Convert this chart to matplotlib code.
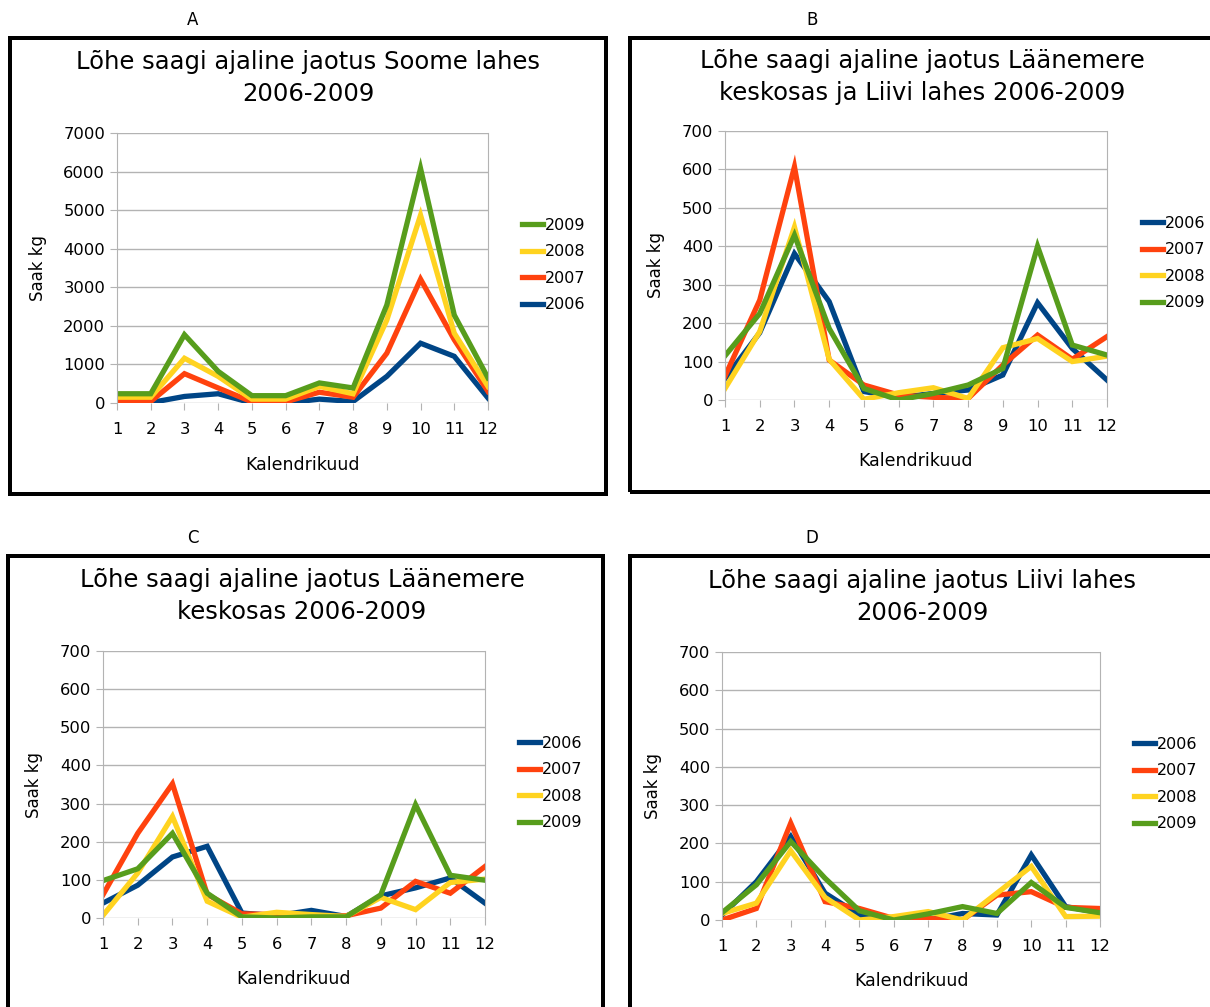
import numpy as np
import matplotlib.pyplot as plt
from matplotlib.patches import Rectangle

months = list(range(1, 13))
years = ["2006", "2007", "2008", "2009"]
colors = {"2006": "#004586", "2007": "#ff420e", "2008": "#ffd320", "2009": "#579d1c"}

# A: Soome laht
a_2006 = [20, 10, 170, 240, 0, 0, 100, 40, 690, 1550, 1210, 130]
a_2007 = [60, 40, 760, 390, 30, 30, 280, 150, 1290, 3210, 1640, 300]
a_2008 = [150, 150, 1160, 690, 100, 100, 430, 240, 2150, 4870, 1810, 430]
a_2009 = [240, 240, 1770, 820, 190, 190, 520, 390, 2540, 6080, 2280, 650]

# B: Läänemere keskosa ja Liivi laht
b_2006 = [56, 175, 381, 256, 22, 7, 17, 26, 65, 253, 134, 52]
b_2007 = [62, 260, 607, 104, 39, 13, 7, 4, 91, 169, 106, 165]
b_2008 = [30, 178, 450, 106, 2, 19, 32, 4, 136, 160, 100, 114]
b_2009 = [115, 225, 429, 186, 30, 0, 17, 39, 82, 400, 143, 117]

# C: Läänemere keskosa
c_2006 = [39, 86, 160, 188, 13, 6, 20, 4, 58, 79, 105, 39]
c_2007 = [61, 222, 352, 62, 11, 9, 0, 6, 26, 96, 65, 135]
c_2008 = [7, 118, 266, 44, 2, 15, 9, 4, 54, 22, 93, 102]
c_2009 = [98, 129, 222, 65, 3, 0, 3, 3, 61, 297, 112, 99]

# D: Liivi laht
d_2006 = [13, 100, 218, 70, 13, 0, 0, 17, 13, 170, 35, 19]
d_2007 = [0, 30, 253, 48, 30, 4, 4, 0, 65, 74, 33, 30]
d_2008 = [17, 44, 181, 59, 0, 9, 22, 0, 70, 140, 9, 10]
d_2009 = [19, 92, 205, 109, 24, 0, 16, 35, 17, 98, 33, 19]

W, H = 1210, 1007
fig = plt.figure(figsize=(W / 100, H / 100), dpi=100)


def fx(px):
    return px / W


def fy(py):
    return 1 - py / H


def frame(x0, y0, x1, y1, lw=4):
    fig.add_artist(Rectangle((fx(x0), fy(y1)), fx(x1 - x0), (y1 - y0) / H,
                             transform=fig.transFigure, fill=False,
                             edgecolor="black", linewidth=lw * 0.72, zorder=0))


def panel(letter, lx, ly, box, title, tx, ty, plot, ymax, ystep, data, order, leg):
    fig.text(fx(lx), fy(ly), letter, ha="center", va="center", fontsize=12)
    frame(*box)
    fig.text(fx(tx), fy(ty), title, ha="center", va="center", fontsize=17.5,
             linespacing=1.4)
    x0, y0, x1, y1 = plot
    ax = fig.add_axes([fx(x0), fy(y1), fx(x1 - x0), (y1 - y0) / H])
    handles = {}
    for yr in years:
        h, = ax.plot(months, data[yr], color=colors[yr], lw=3.8,
                     solid_joinstyle="miter")
        handles[yr] = h
    ax.set_xlim(1, 12)
    ax.set_ylim(0, ymax)
    ax.set_xticks(months)
    ax.set_yticks(np.arange(0, ymax + 1, ystep))
    ax.grid(axis="y", color="#b3b3b3", lw=1)
    ax.set_axisbelow(True)
    for s in ["top", "bottom"]:
        ax.spines[s].set_visible(False)
    for s in ["left", "right"]:
        ax.spines[s].set_color("#b3b3b3")
    ax.tick_params(axis="both", colors="#b3b3b3", labelcolor="black",
                   labelsize=11.8, length=5)
    ax.tick_params(axis="x", pad=9)
    ax.set_xlabel("Kalendrikuud", fontsize=12.5, labelpad=13)
    ax.set_ylabel("Saak kg", fontsize=12, labelpad=12)
    ax.legend([handles[y] for y in order], order, loc="center left",
              bbox_to_anchor=(fx(leg[0]), fy(leg[1])),
              bbox_transform=fig.transFigure, frameon=False, fontsize=11.5,
              handlelength=1.3, handletextpad=0.12, labelspacing=0.72,
              borderpad=0)
    return ax


panel("A", 193, 20, (10, 38, 606, 494),
      "Lõhe saagi ajaline jaotus Soome lahes\n2006-2009", 308, 78,
      (117, 133, 488, 403), 7000, 1000,
      {"2006": a_2006, "2007": a_2007, "2008": a_2008, "2009": a_2009},
      ["2009", "2008", "2007", "2006"], (514, 265))

panel("B", 812, 20, (630, 38, 1230, 492),
      "Lõhe saagi ajaline jaotus Läänemere\nkeskosas ja Liivi lahes 2006-2009", 922, 77,
      (725, 131, 1107, 400), 700, 100,
      {"2006": b_2006, "2007": b_2007, "2008": b_2008, "2009": b_2009},
      years, (1134, 263))

panel("C", 193, 538, (8, 556, 603, 1030),
      "Lõhe saagi ajaline jaotus Läänemere\nkeskosas 2006-2009", 302, 596,
      (103, 651, 485, 918), 700, 100,
      {"2006": c_2006, "2007": c_2007, "2008": c_2008, "2009": c_2009},
      years, (511, 783))

panel("D", 812, 538, (630, 556, 1230, 1030),
      "Lõhe saagi ajaline jaotus Liivi lahes\n2006-2009", 922, 597,
      (722, 652, 1100, 920), 700, 100,
      {"2006": d_2006, "2007": d_2007, "2008": d_2008, "2009": d_2009},
      years, (1126, 784))

fig.savefig("out.png", dpi=100)
